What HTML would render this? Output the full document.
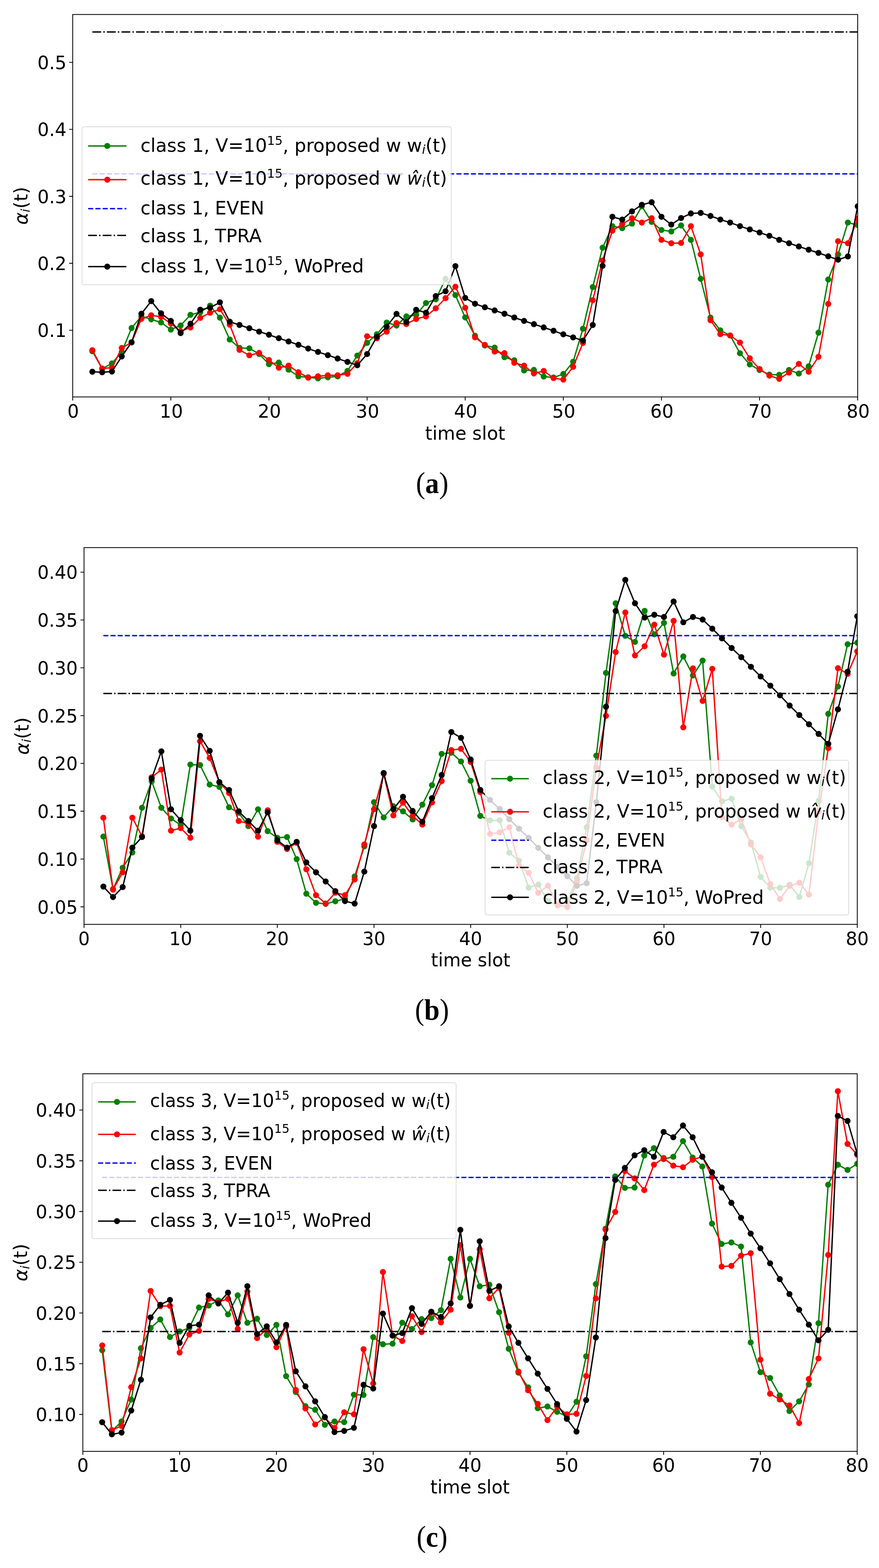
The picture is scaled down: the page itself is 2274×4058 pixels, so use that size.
<!DOCTYPE html><html><head><meta charset="utf-8"><style>html,body{margin:0;padding:0;background:#fff;}svg{display:block;}</style></head><body>
<svg width="2274" height="4058" viewBox="0 0 2274 4058">
<rect x="0" y="0" width="2274" height="4058" fill="#fff"/>
<defs>
<clipPath id="clipa"><rect x="188.1" y="37.5" width="2030.8" height="989.8"/></clipPath>
<clipPath id="clipb"><rect x="217.4" y="1417.2" width="2000.4" height="975.1"/></clipPath>
<clipPath id="clipc"><rect x="214.3" y="2778.9" width="2003.3" height="977.2"/></clipPath>
</defs>
<g clip-path="url(#clipa)">
<polyline points="238.9,908.9 264.3,954.2 289.6,940.5 315.0,910.8 340.4,848.9 365.8,818.7 391.2,826.6 416.6,834.5 442.0,852.9 467.3,842.4 492.7,814.7 518.1,808.2 543.5,791.1 568.9,822.1 594.3,878.7 619.6,900.3 645.0,901.6 670.4,916.1 695.8,942.4 721.2,938.4 746.6,956.8 772.0,973.9 797.3,976.6 822.7,979.2 848.1,976.6 873.5,973.9 898.9,960.0 924.3,920.3 949.7,887.4 975.0,865.0 1000.4,834.7 1025.8,842.6 1051.2,818.9 1076.6,815.0 1102.0,784.2 1127.3,774.7 1152.7,721.6 1178.1,763.7 1203.5,821.6 1228.9,868.9 1254.3,893.9 1279.7,899.5 1305.0,924.5 1330.4,932.4 1355.8,958.7 1381.2,957.4 1406.6,974.5 1432.0,977.1 1457.3,967.9 1482.7,936.3 1508.1,850.8 1533.5,742.9 1558.9,641.1 1584.3,585.3 1609.7,590.5 1635.0,578.7 1660.4,533.9 1685.8,574.2 1711.2,595.3 1736.6,598.9 1762.0,583.4 1787.4,620.8 1812.7,721.6 1838.1,822.1 1863.5,855.0 1888.9,868.2 1914.3,914.2 1939.7,943.2 1965.0,957.6 1990.4,969.5 2015.8,970.0 2041.2,957.6 2066.6,966.8 2092.0,947.9 2117.4,861.1 2142.7,723.4 2168.1,658.4 2193.5,576.1 2218.9,582.6" fill="none" stroke="#008000" stroke-width="3.5" stroke-linejoin="round" stroke-linecap="butt"/>
<g fill="#008000"><circle cx="238.9" cy="908.9" r="7.8"/><circle cx="264.3" cy="954.2" r="7.8"/><circle cx="289.6" cy="940.5" r="7.8"/><circle cx="315.0" cy="910.8" r="7.8"/><circle cx="340.4" cy="848.9" r="7.8"/><circle cx="365.8" cy="818.7" r="7.8"/><circle cx="391.2" cy="826.6" r="7.8"/><circle cx="416.6" cy="834.5" r="7.8"/><circle cx="442.0" cy="852.9" r="7.8"/><circle cx="467.3" cy="842.4" r="7.8"/><circle cx="492.7" cy="814.7" r="7.8"/><circle cx="518.1" cy="808.2" r="7.8"/><circle cx="543.5" cy="791.1" r="7.8"/><circle cx="568.9" cy="822.1" r="7.8"/><circle cx="594.3" cy="878.7" r="7.8"/><circle cx="619.6" cy="900.3" r="7.8"/><circle cx="645.0" cy="901.6" r="7.8"/><circle cx="670.4" cy="916.1" r="7.8"/><circle cx="695.8" cy="942.4" r="7.8"/><circle cx="721.2" cy="938.4" r="7.8"/><circle cx="746.6" cy="956.8" r="7.8"/><circle cx="772.0" cy="973.9" r="7.8"/><circle cx="797.3" cy="976.6" r="7.8"/><circle cx="822.7" cy="979.2" r="7.8"/><circle cx="848.1" cy="976.6" r="7.8"/><circle cx="873.5" cy="973.9" r="7.8"/><circle cx="898.9" cy="960.0" r="7.8"/><circle cx="924.3" cy="920.3" r="7.8"/><circle cx="949.7" cy="887.4" r="7.8"/><circle cx="975.0" cy="865.0" r="7.8"/><circle cx="1000.4" cy="834.7" r="7.8"/><circle cx="1025.8" cy="842.6" r="7.8"/><circle cx="1051.2" cy="818.9" r="7.8"/><circle cx="1076.6" cy="815.0" r="7.8"/><circle cx="1102.0" cy="784.2" r="7.8"/><circle cx="1127.3" cy="774.7" r="7.8"/><circle cx="1152.7" cy="721.6" r="7.8"/><circle cx="1178.1" cy="763.7" r="7.8"/><circle cx="1203.5" cy="821.6" r="7.8"/><circle cx="1228.9" cy="868.9" r="7.8"/><circle cx="1254.3" cy="893.9" r="7.8"/><circle cx="1279.7" cy="899.5" r="7.8"/><circle cx="1305.0" cy="924.5" r="7.8"/><circle cx="1330.4" cy="932.4" r="7.8"/><circle cx="1355.8" cy="958.7" r="7.8"/><circle cx="1381.2" cy="957.4" r="7.8"/><circle cx="1406.6" cy="974.5" r="7.8"/><circle cx="1432.0" cy="977.1" r="7.8"/><circle cx="1457.3" cy="967.9" r="7.8"/><circle cx="1482.7" cy="936.3" r="7.8"/><circle cx="1508.1" cy="850.8" r="7.8"/><circle cx="1533.5" cy="742.9" r="7.8"/><circle cx="1558.9" cy="641.1" r="7.8"/><circle cx="1584.3" cy="585.3" r="7.8"/><circle cx="1609.7" cy="590.5" r="7.8"/><circle cx="1635.0" cy="578.7" r="7.8"/><circle cx="1660.4" cy="533.9" r="7.8"/><circle cx="1685.8" cy="574.2" r="7.8"/><circle cx="1711.2" cy="595.3" r="7.8"/><circle cx="1736.6" cy="598.9" r="7.8"/><circle cx="1762.0" cy="583.4" r="7.8"/><circle cx="1787.4" cy="620.8" r="7.8"/><circle cx="1812.7" cy="721.6" r="7.8"/><circle cx="1838.1" cy="822.1" r="7.8"/><circle cx="1863.5" cy="855.0" r="7.8"/><circle cx="1888.9" cy="868.2" r="7.8"/><circle cx="1914.3" cy="914.2" r="7.8"/><circle cx="1939.7" cy="943.2" r="7.8"/><circle cx="1965.0" cy="957.6" r="7.8"/><circle cx="1990.4" cy="969.5" r="7.8"/><circle cx="2015.8" cy="970.0" r="7.8"/><circle cx="2041.2" cy="957.6" r="7.8"/><circle cx="2066.6" cy="966.8" r="7.8"/><circle cx="2092.0" cy="947.9" r="7.8"/><circle cx="2117.4" cy="861.1" r="7.8"/><circle cx="2142.7" cy="723.4" r="7.8"/><circle cx="2168.1" cy="658.4" r="7.8"/><circle cx="2193.5" cy="576.1" r="7.8"/><circle cx="2218.9" cy="582.6" r="7.8"/></g>
<polyline points="238.9,906.3 264.3,953.7 289.6,951.6 315.0,900.5 340.4,886.3 365.8,825.3 391.2,816.1 416.6,820.0 442.0,837.1 467.3,857.4 492.7,847.6 518.1,822.6 543.5,809.5 568.9,800.3 594.3,840.5 619.6,905.5 645.0,919.5 670.4,913.4 695.8,931.8 721.2,951.6 746.6,946.3 772.0,963.4 797.3,977.4 822.7,973.9 848.1,971.3 873.5,971.3 898.9,967.4 924.3,940.0 949.7,870.3 975.0,875.5 1000.4,858.4 1025.8,836.1 1051.2,838.7 1076.6,825.5 1102.0,818.9 1127.3,797.9 1152.7,771.6 1178.1,742.1 1203.5,796.6 1228.9,872.9 1254.3,892.6 1279.7,910.0 1305.0,913.9 1330.4,938.9 1355.8,946.3 1381.2,966.6 1406.6,960.0 1432.0,978.4 1457.3,982.4 1482.7,949.5 1508.1,887.6 1533.5,777.1 1558.9,674.2 1584.3,597.1 1609.7,580.0 1635.0,564.7 1660.4,576.1 1685.8,564.7 1711.2,620.8 1736.6,629.5 1762.0,628.7 1787.4,585.3 1812.7,658.4 1838.1,828.7 1863.5,864.7 1888.9,868.2 1914.3,886.6 1939.7,927.4 1965.0,955.0 1990.4,972.1 2015.8,980.5 2041.2,964.2 2066.6,941.8 2092.0,962.1 2117.4,923.4 2142.7,786.6 2168.1,624.2 2193.5,629.5 2218.9,566.1" fill="none" stroke="#ff0000" stroke-width="3.5" stroke-linejoin="round" stroke-linecap="butt"/>
<g fill="#ff0000"><circle cx="238.9" cy="906.3" r="7.8"/><circle cx="264.3" cy="953.7" r="7.8"/><circle cx="289.6" cy="951.6" r="7.8"/><circle cx="315.0" cy="900.5" r="7.8"/><circle cx="340.4" cy="886.3" r="7.8"/><circle cx="365.8" cy="825.3" r="7.8"/><circle cx="391.2" cy="816.1" r="7.8"/><circle cx="416.6" cy="820.0" r="7.8"/><circle cx="442.0" cy="837.1" r="7.8"/><circle cx="467.3" cy="857.4" r="7.8"/><circle cx="492.7" cy="847.6" r="7.8"/><circle cx="518.1" cy="822.6" r="7.8"/><circle cx="543.5" cy="809.5" r="7.8"/><circle cx="568.9" cy="800.3" r="7.8"/><circle cx="594.3" cy="840.5" r="7.8"/><circle cx="619.6" cy="905.5" r="7.8"/><circle cx="645.0" cy="919.5" r="7.8"/><circle cx="670.4" cy="913.4" r="7.8"/><circle cx="695.8" cy="931.8" r="7.8"/><circle cx="721.2" cy="951.6" r="7.8"/><circle cx="746.6" cy="946.3" r="7.8"/><circle cx="772.0" cy="963.4" r="7.8"/><circle cx="797.3" cy="977.4" r="7.8"/><circle cx="822.7" cy="973.9" r="7.8"/><circle cx="848.1" cy="971.3" r="7.8"/><circle cx="873.5" cy="971.3" r="7.8"/><circle cx="898.9" cy="967.4" r="7.8"/><circle cx="924.3" cy="940.0" r="7.8"/><circle cx="949.7" cy="870.3" r="7.8"/><circle cx="975.0" cy="875.5" r="7.8"/><circle cx="1000.4" cy="858.4" r="7.8"/><circle cx="1025.8" cy="836.1" r="7.8"/><circle cx="1051.2" cy="838.7" r="7.8"/><circle cx="1076.6" cy="825.5" r="7.8"/><circle cx="1102.0" cy="818.9" r="7.8"/><circle cx="1127.3" cy="797.9" r="7.8"/><circle cx="1152.7" cy="771.6" r="7.8"/><circle cx="1178.1" cy="742.1" r="7.8"/><circle cx="1203.5" cy="796.6" r="7.8"/><circle cx="1228.9" cy="872.9" r="7.8"/><circle cx="1254.3" cy="892.6" r="7.8"/><circle cx="1279.7" cy="910.0" r="7.8"/><circle cx="1305.0" cy="913.9" r="7.8"/><circle cx="1330.4" cy="938.9" r="7.8"/><circle cx="1355.8" cy="946.3" r="7.8"/><circle cx="1381.2" cy="966.6" r="7.8"/><circle cx="1406.6" cy="960.0" r="7.8"/><circle cx="1432.0" cy="978.4" r="7.8"/><circle cx="1457.3" cy="982.4" r="7.8"/><circle cx="1482.7" cy="949.5" r="7.8"/><circle cx="1508.1" cy="887.6" r="7.8"/><circle cx="1533.5" cy="777.1" r="7.8"/><circle cx="1558.9" cy="674.2" r="7.8"/><circle cx="1584.3" cy="597.1" r="7.8"/><circle cx="1609.7" cy="580.0" r="7.8"/><circle cx="1635.0" cy="564.7" r="7.8"/><circle cx="1660.4" cy="576.1" r="7.8"/><circle cx="1685.8" cy="564.7" r="7.8"/><circle cx="1711.2" cy="620.8" r="7.8"/><circle cx="1736.6" cy="629.5" r="7.8"/><circle cx="1762.0" cy="628.7" r="7.8"/><circle cx="1787.4" cy="585.3" r="7.8"/><circle cx="1812.7" cy="658.4" r="7.8"/><circle cx="1838.1" cy="828.7" r="7.8"/><circle cx="1863.5" cy="864.7" r="7.8"/><circle cx="1888.9" cy="868.2" r="7.8"/><circle cx="1914.3" cy="886.6" r="7.8"/><circle cx="1939.7" cy="927.4" r="7.8"/><circle cx="1965.0" cy="955.0" r="7.8"/><circle cx="1990.4" cy="972.1" r="7.8"/><circle cx="2015.8" cy="980.5" r="7.8"/><circle cx="2041.2" cy="964.2" r="7.8"/><circle cx="2066.6" cy="941.8" r="7.8"/><circle cx="2092.0" cy="962.1" r="7.8"/><circle cx="2117.4" cy="923.4" r="7.8"/><circle cx="2142.7" cy="786.6" r="7.8"/><circle cx="2168.1" cy="624.2" r="7.8"/><circle cx="2193.5" cy="629.5" r="7.8"/><circle cx="2218.9" cy="566.1" r="7.8"/></g>
<line x1="238.9" y1="450.0" x2="2218.9" y2="450.0" stroke="#0000ff" stroke-width="3.5" stroke-dasharray="13.148,5.686"/>
<line x1="238.9" y1="82.8" x2="2218.9" y2="82.8" stroke="#000" stroke-width="3.5" stroke-dasharray="22.743,5.686,3.554,5.686"/>
<polyline points="238.9,962.1 264.3,963.4 289.6,961.6 315.0,922.6 340.4,885.8 365.8,812.1 391.2,779.2 416.6,810.8 442.0,830.5 467.3,862.1 492.7,837.9 518.1,801.6 543.5,796.3 568.9,782.6 594.3,832.6 619.6,841.1 645.0,849.5 670.4,858.2 695.8,866.3 721.2,875.3 746.6,883.7 772.0,892.4 797.3,902.1 822.7,910.8 848.1,919.2 873.5,927.9 898.9,936.6 924.3,945.3 949.7,916.3 975.0,871.6 1000.4,845.3 1025.8,812.4 1051.2,833.4 1076.6,801.8 1102.0,809.2 1127.3,766.3 1152.7,753.7 1178.1,688.7 1203.5,771.1 1228.9,786.1 1254.3,795.3 1279.7,803.4 1305.0,812.1 1330.4,821.8 1355.8,830.5 1381.2,838.9 1406.6,847.4 1432.0,856.1 1457.3,865.3 1482.7,873.2 1508.1,881.6 1533.5,841.1 1558.9,687.9 1584.3,561.1 1609.7,568.2 1635.0,547.1 1660.4,530.0 1685.8,523.4 1711.2,561.1 1736.6,581.3 1762.0,564.2 1787.4,552.4 1812.7,551.1 1838.1,558.9 1863.5,568.2 1888.9,576.1 1914.3,585.3 1939.7,593.7 1965.0,601.8 1990.4,610.3 2015.8,620.8 2041.2,629.5 2066.6,637.9 2092.0,646.3 2117.4,654.5 2142.7,663.4 2168.1,672.1 2193.5,663.7 2218.9,533.9" fill="none" stroke="#000" stroke-width="3.5" stroke-linejoin="round"/>
<g fill="#000"><circle cx="238.9" cy="962.1" r="7.8"/><circle cx="264.3" cy="963.4" r="7.8"/><circle cx="289.6" cy="961.6" r="7.8"/><circle cx="315.0" cy="922.6" r="7.8"/><circle cx="340.4" cy="885.8" r="7.8"/><circle cx="365.8" cy="812.1" r="7.8"/><circle cx="391.2" cy="779.2" r="7.8"/><circle cx="416.6" cy="810.8" r="7.8"/><circle cx="442.0" cy="830.5" r="7.8"/><circle cx="467.3" cy="862.1" r="7.8"/><circle cx="492.7" cy="837.9" r="7.8"/><circle cx="518.1" cy="801.6" r="7.8"/><circle cx="543.5" cy="796.3" r="7.8"/><circle cx="568.9" cy="782.6" r="7.8"/><circle cx="594.3" cy="832.6" r="7.8"/><circle cx="619.6" cy="841.1" r="7.8"/><circle cx="645.0" cy="849.5" r="7.8"/><circle cx="670.4" cy="858.2" r="7.8"/><circle cx="695.8" cy="866.3" r="7.8"/><circle cx="721.2" cy="875.3" r="7.8"/><circle cx="746.6" cy="883.7" r="7.8"/><circle cx="772.0" cy="892.4" r="7.8"/><circle cx="797.3" cy="902.1" r="7.8"/><circle cx="822.7" cy="910.8" r="7.8"/><circle cx="848.1" cy="919.2" r="7.8"/><circle cx="873.5" cy="927.9" r="7.8"/><circle cx="898.9" cy="936.6" r="7.8"/><circle cx="924.3" cy="945.3" r="7.8"/><circle cx="949.7" cy="916.3" r="7.8"/><circle cx="975.0" cy="871.6" r="7.8"/><circle cx="1000.4" cy="845.3" r="7.8"/><circle cx="1025.8" cy="812.4" r="7.8"/><circle cx="1051.2" cy="833.4" r="7.8"/><circle cx="1076.6" cy="801.8" r="7.8"/><circle cx="1102.0" cy="809.2" r="7.8"/><circle cx="1127.3" cy="766.3" r="7.8"/><circle cx="1152.7" cy="753.7" r="7.8"/><circle cx="1178.1" cy="688.7" r="7.8"/><circle cx="1203.5" cy="771.1" r="7.8"/><circle cx="1228.9" cy="786.1" r="7.8"/><circle cx="1254.3" cy="795.3" r="7.8"/><circle cx="1279.7" cy="803.4" r="7.8"/><circle cx="1305.0" cy="812.1" r="7.8"/><circle cx="1330.4" cy="821.8" r="7.8"/><circle cx="1355.8" cy="830.5" r="7.8"/><circle cx="1381.2" cy="838.9" r="7.8"/><circle cx="1406.6" cy="847.4" r="7.8"/><circle cx="1432.0" cy="856.1" r="7.8"/><circle cx="1457.3" cy="865.3" r="7.8"/><circle cx="1482.7" cy="873.2" r="7.8"/><circle cx="1508.1" cy="881.6" r="7.8"/><circle cx="1533.5" cy="841.1" r="7.8"/><circle cx="1558.9" cy="687.9" r="7.8"/><circle cx="1584.3" cy="561.1" r="7.8"/><circle cx="1609.7" cy="568.2" r="7.8"/><circle cx="1635.0" cy="547.1" r="7.8"/><circle cx="1660.4" cy="530.0" r="7.8"/><circle cx="1685.8" cy="523.4" r="7.8"/><circle cx="1711.2" cy="561.1" r="7.8"/><circle cx="1736.6" cy="581.3" r="7.8"/><circle cx="1762.0" cy="564.2" r="7.8"/><circle cx="1787.4" cy="552.4" r="7.8"/><circle cx="1812.7" cy="551.1" r="7.8"/><circle cx="1838.1" cy="558.9" r="7.8"/><circle cx="1863.5" cy="568.2" r="7.8"/><circle cx="1888.9" cy="576.1" r="7.8"/><circle cx="1914.3" cy="585.3" r="7.8"/><circle cx="1939.7" cy="593.7" r="7.8"/><circle cx="1965.0" cy="601.8" r="7.8"/><circle cx="1990.4" cy="610.3" r="7.8"/><circle cx="2015.8" cy="620.8" r="7.8"/><circle cx="2041.2" cy="629.5" r="7.8"/><circle cx="2066.6" cy="637.9" r="7.8"/><circle cx="2092.0" cy="646.3" r="7.8"/><circle cx="2117.4" cy="654.5" r="7.8"/><circle cx="2142.7" cy="663.4" r="7.8"/><circle cx="2168.1" cy="672.1" r="7.8"/><circle cx="2193.5" cy="663.7" r="7.8"/><circle cx="2218.9" cy="533.9" r="7.8"/></g>
</g>
<rect x="188.1" y="37.5" width="2030.8" height="989.8" fill="none" stroke="#000" stroke-width="2.1" stroke-linejoin="miter"/>
<path d="M188.1 1027.3v9.2M442.0 1027.3v9.2M695.8 1027.3v9.2M949.7 1027.3v9.2M1203.5 1027.3v9.2M1457.3 1027.3v9.2M1711.2 1027.3v9.2M1965.0 1027.3v9.2M2218.9 1027.3v9.2M188.1 854.7h-9.2M188.1 681.4h-9.2M188.1 508.1h-9.2M188.1 334.8h-9.2M188.1 161.5h-9.2" stroke="#000" stroke-width="2.1" fill="none"/>
<g font-family="'DejaVu Sans', sans-serif" font-size="48.8" fill="#000">
<text transform="translate(189.3,1080.6) scale(0.97,1)" text-anchor="middle">0</text>
<text transform="translate(443.2,1080.6) scale(0.97,1)" text-anchor="middle">10</text>
<text transform="translate(697.0,1080.6) scale(0.97,1)" text-anchor="middle">20</text>
<text transform="translate(950.9,1080.6) scale(0.97,1)" text-anchor="middle">30</text>
<text transform="translate(1204.7,1080.6) scale(0.97,1)" text-anchor="middle">40</text>
<text transform="translate(1458.5,1080.6) scale(0.97,1)" text-anchor="middle">50</text>
<text transform="translate(1712.4,1080.6) scale(0.97,1)" text-anchor="middle">60</text>
<text transform="translate(1966.2,1080.6) scale(0.97,1)" text-anchor="middle">70</text>
<text transform="translate(2220.1,1080.6) scale(0.97,1)" text-anchor="middle">80</text>
<text transform="translate(172.1,872.3) scale(0.97,1)" text-anchor="end">0.1</text>
<text transform="translate(172.1,699.0) scale(0.97,1)" text-anchor="end">0.2</text>
<text transform="translate(172.1,525.7) scale(0.97,1)" text-anchor="end">0.3</text>
<text transform="translate(172.1,352.4) scale(0.97,1)" text-anchor="end">0.4</text>
<text transform="translate(172.1,179.1) scale(0.97,1)" text-anchor="end">0.5</text>
<text transform="translate(1203.5,1137.6) scale(0.97,1)" text-anchor="middle">time slot</text>
<text transform="translate(70.6,532.4) rotate(-90)" text-anchor="middle"><tspan font-style="italic">α</tspan><tspan dy="6.05" font-size="32.70" font-style="italic">i</tspan><tspan dy="-6.05">(t)</tspan></text>
</g>
<rect x="1043" y="445" width="121" height="10" fill="#fff"/>
<rect x="212.2" y="328.2" width="955.2" height="408.7" rx="5" ry="5" fill="#fff" fill-opacity="0.8" stroke="#cccccc" stroke-opacity="0.8" stroke-width="1.7"/>
<line x1="228.0" y1="377.8" x2="327.0" y2="377.8" stroke="#008000" stroke-width="3.5"/><circle cx="277.5" cy="377.8" r="7.8" fill="#008000"/>
<line x1="228.0" y1="465.1" x2="327.0" y2="465.1" stroke="#ff0000" stroke-width="3.5"/><circle cx="277.5" cy="465.1" r="7.8" fill="#ff0000"/>
<line x1="228.0" y1="540.0" x2="327.0" y2="540.0" stroke="#0000ff" stroke-width="3.5" stroke-dasharray="13.148,5.686"/>
<line x1="228.0" y1="609.3" x2="327.0" y2="609.3" stroke="#000" stroke-width="3.5" stroke-dasharray="22.743,5.686,3.554,5.686"/>
<line x1="228.0" y1="690.1" x2="327.0" y2="690.1" stroke="#000000" stroke-width="3.5"/><circle cx="277.5" cy="690.1" r="7.8" fill="#000000"/>
<g font-family="'DejaVu Sans', sans-serif" font-size="48.8" fill="#000">
<text transform="translate(363.4,393.2) scale(0.977,1)">class 1, V=10<tspan dy="-18.59" font-size="32.70">15</tspan><tspan dy="18.59">, proposed w w</tspan><tspan dy="5.03" font-size="32.70" font-style="italic">i</tspan><tspan dy="-5.03">(t)</tspan></text>
<text transform="translate(363.4,478.2) scale(0.977,1)">class 1, V=10<tspan dy="-18.59" font-size="32.70">15</tspan><tspan dy="18.59">, proposed w </tspan><tspan font-style="italic">ŵ</tspan><tspan dy="5.03" font-size="32.70" font-style="italic">i</tspan><tspan dy="-5.03">(t)</tspan></text>
<text transform="translate(363.4,555.0) scale(0.97,1)">class 1, EVEN</text>
<text transform="translate(363.4,627.4) scale(0.97,1)">class 1, TPRA</text>
<text transform="translate(363.4,705.0) scale(0.977,1)">class 1, V=10<tspan dy="-18.59" font-size="32.70">15</tspan><tspan dy="18.59">, WoPred</tspan></text>
</g>
<text transform="translate(1118,1276) scale(0.93,1)" text-anchor="middle" font-family="'Liberation Serif', serif" font-size="78">(<tspan font-weight="bold" font-size="77">a</tspan>)</text>
<g clip-path="url(#clipb)">
<polyline points="267.4,2165.0 292.4,2301.1 317.4,2245.8 342.4,2206.3 367.4,2090.5 392.4,2022.1 417.4,2090.5 442.4,2118.2 467.5,2135.3 492.5,1978.7 517.5,1980.0 542.5,2030.5 567.5,2036.6 592.5,2089.2 617.5,2103.7 642.5,2137.9 667.5,2094.5 692.5,2151.1 717.5,2168.2 742.5,2166.3 767.5,2223.4 792.5,2312.9 817.5,2336.6 842.5,2339.2 867.5,2332.6 892.5,2326.1 917.5,2268.2 942.5,2190.5 967.6,2076.1 992.6,2115.5 1017.6,2086.6 1042.6,2099.7 1067.6,2120.8 1092.6,2082.6 1117.6,2032.1 1142.6,1951.1 1167.6,1947.9 1192.6,1970.8 1217.6,2020.8 1242.6,2111.6 1267.6,2123.3 1292.6,2123.0 1317.6,2207.0 1342.6,2227.5 1367.6,2297.3 1392.6,2289.3 1417.6,2332.0 1442.6,2343.3 1467.7,2333.0 1492.7,2272.5 1517.7,2141.0 1542.7,1955.6 1567.7,1741.6 1592.7,1561.3 1617.7,1645.5 1642.7,1661.3 1667.7,1581.1 1692.7,1641.6 1717.7,1612.1 1742.7,1742.9 1767.7,1698.9 1792.7,1748.2 1817.7,1709.5 1842.7,2035.5 1867.7,2073.7 1892.7,2067.1 1917.7,2138.2 1942.7,2180.3 1967.8,2269.5 1992.8,2297.2 2017.8,2297.8 2042.8,2289.7 2067.8,2321.5 2092.8,2233.9 2117.8,2073.0 2142.8,1847.4 2167.8,1776.7 2192.8,1667.2 2217.8,1663.3" fill="none" stroke="#008000" stroke-width="3.5" stroke-linejoin="round" stroke-linecap="butt"/>
<g fill="#008000"><circle cx="267.4" cy="2165.0" r="7.8"/><circle cx="292.4" cy="2301.1" r="7.8"/><circle cx="317.4" cy="2245.8" r="7.8"/><circle cx="342.4" cy="2206.3" r="7.8"/><circle cx="367.4" cy="2090.5" r="7.8"/><circle cx="392.4" cy="2022.1" r="7.8"/><circle cx="417.4" cy="2090.5" r="7.8"/><circle cx="442.4" cy="2118.2" r="7.8"/><circle cx="467.5" cy="2135.3" r="7.8"/><circle cx="492.5" cy="1978.7" r="7.8"/><circle cx="517.5" cy="1980.0" r="7.8"/><circle cx="542.5" cy="2030.5" r="7.8"/><circle cx="567.5" cy="2036.6" r="7.8"/><circle cx="592.5" cy="2089.2" r="7.8"/><circle cx="617.5" cy="2103.7" r="7.8"/><circle cx="642.5" cy="2137.9" r="7.8"/><circle cx="667.5" cy="2094.5" r="7.8"/><circle cx="692.5" cy="2151.1" r="7.8"/><circle cx="717.5" cy="2168.2" r="7.8"/><circle cx="742.5" cy="2166.3" r="7.8"/><circle cx="767.5" cy="2223.4" r="7.8"/><circle cx="792.5" cy="2312.9" r="7.8"/><circle cx="817.5" cy="2336.6" r="7.8"/><circle cx="842.5" cy="2339.2" r="7.8"/><circle cx="867.5" cy="2332.6" r="7.8"/><circle cx="892.5" cy="2326.1" r="7.8"/><circle cx="917.5" cy="2268.2" r="7.8"/><circle cx="942.5" cy="2190.5" r="7.8"/><circle cx="967.6" cy="2076.1" r="7.8"/><circle cx="992.6" cy="2115.5" r="7.8"/><circle cx="1017.6" cy="2086.6" r="7.8"/><circle cx="1042.6" cy="2099.7" r="7.8"/><circle cx="1067.6" cy="2120.8" r="7.8"/><circle cx="1092.6" cy="2082.6" r="7.8"/><circle cx="1117.6" cy="2032.1" r="7.8"/><circle cx="1142.6" cy="1951.1" r="7.8"/><circle cx="1167.6" cy="1947.9" r="7.8"/><circle cx="1192.6" cy="1970.8" r="7.8"/><circle cx="1217.6" cy="2020.8" r="7.8"/><circle cx="1242.6" cy="2111.6" r="7.8"/><circle cx="1267.6" cy="2123.3" r="7.8"/><circle cx="1292.6" cy="2123.0" r="7.8"/><circle cx="1317.6" cy="2207.0" r="7.8"/><circle cx="1342.6" cy="2227.5" r="7.8"/><circle cx="1367.6" cy="2297.3" r="7.8"/><circle cx="1392.6" cy="2289.3" r="7.8"/><circle cx="1417.6" cy="2332.0" r="7.8"/><circle cx="1442.6" cy="2343.3" r="7.8"/><circle cx="1467.7" cy="2333.0" r="7.8"/><circle cx="1492.7" cy="2272.5" r="7.8"/><circle cx="1517.7" cy="2141.0" r="7.8"/><circle cx="1542.7" cy="1955.6" r="7.8"/><circle cx="1567.7" cy="1741.6" r="7.8"/><circle cx="1592.7" cy="1561.3" r="7.8"/><circle cx="1617.7" cy="1645.5" r="7.8"/><circle cx="1642.7" cy="1661.3" r="7.8"/><circle cx="1667.7" cy="1581.1" r="7.8"/><circle cx="1692.7" cy="1641.6" r="7.8"/><circle cx="1717.7" cy="1612.1" r="7.8"/><circle cx="1742.7" cy="1742.9" r="7.8"/><circle cx="1767.7" cy="1698.9" r="7.8"/><circle cx="1792.7" cy="1748.2" r="7.8"/><circle cx="1817.7" cy="1709.5" r="7.8"/><circle cx="1842.7" cy="2035.5" r="7.8"/><circle cx="1867.7" cy="2073.7" r="7.8"/><circle cx="1892.7" cy="2067.1" r="7.8"/><circle cx="1917.7" cy="2138.2" r="7.8"/><circle cx="1942.7" cy="2180.3" r="7.8"/><circle cx="1967.8" cy="2269.5" r="7.8"/><circle cx="1992.8" cy="2297.2" r="7.8"/><circle cx="2017.8" cy="2297.8" r="7.8"/><circle cx="2042.8" cy="2289.7" r="7.8"/><circle cx="2067.8" cy="2321.5" r="7.8"/><circle cx="2092.8" cy="2233.9" r="7.8"/><circle cx="2117.8" cy="2073.0" r="7.8"/><circle cx="2142.8" cy="1847.4" r="7.8"/><circle cx="2167.8" cy="1776.7" r="7.8"/><circle cx="2192.8" cy="1667.2" r="7.8"/><circle cx="2217.8" cy="1663.3" r="7.8"/></g>
<polyline points="267.4,2116.3 292.4,2302.4 317.4,2257.6 342.4,2116.3 367.4,2164.2 392.4,2011.6 417.4,1991.8 442.4,2149.7 467.5,2143.2 492.5,2168.2 517.5,1918.2 542.5,1961.6 567.5,2024.2 592.5,2052.4 617.5,2124.7 642.5,2131.3 667.5,2165.5 692.5,2097.1 717.5,2178.7 742.5,2197.1 767.5,2181.3 792.5,2249.7 817.5,2316.8 842.5,2338.4 867.5,2310.3 892.5,2316.8 917.5,2276.1 942.5,2185.3 967.6,2094.5 992.6,2002.4 1017.6,2110.3 1042.6,2077.4 1067.6,2111.6 1092.6,2133.9 1117.6,2076.8 1142.6,2021.6 1167.6,1941.3 1192.6,1937.9 1217.6,1972.1 1242.6,2049.7 1267.6,2158.3 1292.6,2154.3 1317.6,2141.0 1342.6,2240.0 1367.6,2259.0 1392.6,2310.6 1417.6,2292.5 1442.6,2342.2 1467.7,2347.5 1492.7,2280.7 1517.7,2174.3 1542.7,1986.8 1567.7,1852.6 1592.7,1687.6 1617.7,1585.0 1642.7,1696.3 1667.7,1672.6 1692.7,1616.6 1717.7,1694.2 1742.7,1606.8 1767.7,1882.4 1792.7,1729.7 1817.7,1813.9 1842.7,1731.1 1867.7,2114.5 1892.7,2134.2 1917.7,2119.7 1942.7,2185.5 1967.8,2218.9 1992.8,2287.8 2017.8,2326.5 2042.8,2292.8 2067.8,2284.5 2092.8,2315.3 2117.8,2100.0 2142.8,1935.9 2167.8,1729.3 2192.8,1744.0 2217.8,1685.8" fill="none" stroke="#ff0000" stroke-width="3.5" stroke-linejoin="round" stroke-linecap="butt"/>
<g fill="#ff0000"><circle cx="267.4" cy="2116.3" r="7.8"/><circle cx="292.4" cy="2302.4" r="7.8"/><circle cx="317.4" cy="2257.6" r="7.8"/><circle cx="342.4" cy="2116.3" r="7.8"/><circle cx="367.4" cy="2164.2" r="7.8"/><circle cx="392.4" cy="2011.6" r="7.8"/><circle cx="417.4" cy="1991.8" r="7.8"/><circle cx="442.4" cy="2149.7" r="7.8"/><circle cx="467.5" cy="2143.2" r="7.8"/><circle cx="492.5" cy="2168.2" r="7.8"/><circle cx="517.5" cy="1918.2" r="7.8"/><circle cx="542.5" cy="1961.6" r="7.8"/><circle cx="567.5" cy="2024.2" r="7.8"/><circle cx="592.5" cy="2052.4" r="7.8"/><circle cx="617.5" cy="2124.7" r="7.8"/><circle cx="642.5" cy="2131.3" r="7.8"/><circle cx="667.5" cy="2165.5" r="7.8"/><circle cx="692.5" cy="2097.1" r="7.8"/><circle cx="717.5" cy="2178.7" r="7.8"/><circle cx="742.5" cy="2197.1" r="7.8"/><circle cx="767.5" cy="2181.3" r="7.8"/><circle cx="792.5" cy="2249.7" r="7.8"/><circle cx="817.5" cy="2316.8" r="7.8"/><circle cx="842.5" cy="2338.4" r="7.8"/><circle cx="867.5" cy="2310.3" r="7.8"/><circle cx="892.5" cy="2316.8" r="7.8"/><circle cx="917.5" cy="2276.1" r="7.8"/><circle cx="942.5" cy="2185.3" r="7.8"/><circle cx="967.6" cy="2094.5" r="7.8"/><circle cx="992.6" cy="2002.4" r="7.8"/><circle cx="1017.6" cy="2110.3" r="7.8"/><circle cx="1042.6" cy="2077.4" r="7.8"/><circle cx="1067.6" cy="2111.6" r="7.8"/><circle cx="1092.6" cy="2133.9" r="7.8"/><circle cx="1117.6" cy="2076.8" r="7.8"/><circle cx="1142.6" cy="2021.6" r="7.8"/><circle cx="1167.6" cy="1941.3" r="7.8"/><circle cx="1192.6" cy="1937.9" r="7.8"/><circle cx="1217.6" cy="1972.1" r="7.8"/><circle cx="1242.6" cy="2049.7" r="7.8"/><circle cx="1267.6" cy="2158.3" r="7.8"/><circle cx="1292.6" cy="2154.3" r="7.8"/><circle cx="1317.6" cy="2141.0" r="7.8"/><circle cx="1342.6" cy="2240.0" r="7.8"/><circle cx="1367.6" cy="2259.0" r="7.8"/><circle cx="1392.6" cy="2310.6" r="7.8"/><circle cx="1417.6" cy="2292.5" r="7.8"/><circle cx="1442.6" cy="2342.2" r="7.8"/><circle cx="1467.7" cy="2347.5" r="7.8"/><circle cx="1492.7" cy="2280.7" r="7.8"/><circle cx="1517.7" cy="2174.3" r="7.8"/><circle cx="1542.7" cy="1986.8" r="7.8"/><circle cx="1567.7" cy="1852.6" r="7.8"/><circle cx="1592.7" cy="1687.6" r="7.8"/><circle cx="1617.7" cy="1585.0" r="7.8"/><circle cx="1642.7" cy="1696.3" r="7.8"/><circle cx="1667.7" cy="1672.6" r="7.8"/><circle cx="1692.7" cy="1616.6" r="7.8"/><circle cx="1717.7" cy="1694.2" r="7.8"/><circle cx="1742.7" cy="1606.8" r="7.8"/><circle cx="1767.7" cy="1882.4" r="7.8"/><circle cx="1792.7" cy="1729.7" r="7.8"/><circle cx="1817.7" cy="1813.9" r="7.8"/><circle cx="1842.7" cy="1731.1" r="7.8"/><circle cx="1867.7" cy="2114.5" r="7.8"/><circle cx="1892.7" cy="2134.2" r="7.8"/><circle cx="1917.7" cy="2119.7" r="7.8"/><circle cx="1942.7" cy="2185.5" r="7.8"/><circle cx="1967.8" cy="2218.9" r="7.8"/><circle cx="1992.8" cy="2287.8" r="7.8"/><circle cx="2017.8" cy="2326.5" r="7.8"/><circle cx="2042.8" cy="2292.8" r="7.8"/><circle cx="2067.8" cy="2284.5" r="7.8"/><circle cx="2092.8" cy="2315.3" r="7.8"/><circle cx="2117.8" cy="2100.0" r="7.8"/><circle cx="2142.8" cy="1935.9" r="7.8"/><circle cx="2167.8" cy="1729.3" r="7.8"/><circle cx="2192.8" cy="1744.0" r="7.8"/><circle cx="2217.8" cy="1685.8" r="7.8"/></g>
<line x1="267.4" y1="1645.1" x2="2217.8" y2="1645.1" stroke="#0000ff" stroke-width="3.5" stroke-dasharray="12.952,5.601"/>
<line x1="267.4" y1="1794.7" x2="2217.8" y2="1794.7" stroke="#000" stroke-width="3.5" stroke-dasharray="22.404,5.601,3.501,5.601"/>
<polyline points="267.4,2294.5 292.4,2321.6 317.4,2295.8 342.4,2193.7 367.4,2166.3 392.4,2014.7 417.4,1944.5 442.4,2094.5 467.5,2122.6 492.5,2149.7 517.5,1904.2 542.5,1943.2 567.5,2024.2 592.5,2044.5 617.5,2099.7 642.5,2124.7 667.5,2149.7 692.5,2102.4 717.5,2174.7 742.5,2193.7 767.5,2178.7 792.5,2232.1 817.5,2257.6 842.5,2281.3 867.5,2306.3 892.5,2332.1 917.5,2338.4 942.5,2255.8 967.6,2137.9 992.6,2000.5 1017.6,2094.5 1042.6,2062.1 1067.6,2098.9 1092.6,2126.8 1117.6,2065.5 1142.6,2005.8 1167.6,1894.5 1192.6,1909.5 1217.6,1965.5 1242.6,2044.5 1267.6,2070.3 1292.6,2093.8 1317.6,2120.0 1342.6,2144.8 1367.6,2168.4 1392.6,2194.2 1417.6,2218.9 1442.6,2243.6 1467.7,2267.8 1492.7,2292.5 1517.7,2285.8 1542.7,2076.2 1567.7,1828.9 1592.7,1581.6 1617.7,1500.8 1642.7,1561.3 1667.7,1598.2 1692.7,1591.1 1717.7,1596.8 1742.7,1556.8 1767.7,1610.5 1792.7,1596.8 1817.7,1603.4 1842.7,1627.1 1867.7,1652.1 1892.7,1677.1 1917.7,1700.8 1942.7,1725.8 1967.8,1750.8 1992.8,1774.5 2017.8,1799.5 2042.8,1826.1 2067.8,1850.5 2092.8,1874.5 2117.8,1899.4 2142.8,1925.0 2167.8,1835.7 2192.8,1738.6 2217.8,1595.0" fill="none" stroke="#000" stroke-width="3.5" stroke-linejoin="round"/>
<g fill="#000"><circle cx="267.4" cy="2294.5" r="7.8"/><circle cx="292.4" cy="2321.6" r="7.8"/><circle cx="317.4" cy="2295.8" r="7.8"/><circle cx="342.4" cy="2193.7" r="7.8"/><circle cx="367.4" cy="2166.3" r="7.8"/><circle cx="392.4" cy="2014.7" r="7.8"/><circle cx="417.4" cy="1944.5" r="7.8"/><circle cx="442.4" cy="2094.5" r="7.8"/><circle cx="467.5" cy="2122.6" r="7.8"/><circle cx="492.5" cy="2149.7" r="7.8"/><circle cx="517.5" cy="1904.2" r="7.8"/><circle cx="542.5" cy="1943.2" r="7.8"/><circle cx="567.5" cy="2024.2" r="7.8"/><circle cx="592.5" cy="2044.5" r="7.8"/><circle cx="617.5" cy="2099.7" r="7.8"/><circle cx="642.5" cy="2124.7" r="7.8"/><circle cx="667.5" cy="2149.7" r="7.8"/><circle cx="692.5" cy="2102.4" r="7.8"/><circle cx="717.5" cy="2174.7" r="7.8"/><circle cx="742.5" cy="2193.7" r="7.8"/><circle cx="767.5" cy="2178.7" r="7.8"/><circle cx="792.5" cy="2232.1" r="7.8"/><circle cx="817.5" cy="2257.6" r="7.8"/><circle cx="842.5" cy="2281.3" r="7.8"/><circle cx="867.5" cy="2306.3" r="7.8"/><circle cx="892.5" cy="2332.1" r="7.8"/><circle cx="917.5" cy="2338.4" r="7.8"/><circle cx="942.5" cy="2255.8" r="7.8"/><circle cx="967.6" cy="2137.9" r="7.8"/><circle cx="992.6" cy="2000.5" r="7.8"/><circle cx="1017.6" cy="2094.5" r="7.8"/><circle cx="1042.6" cy="2062.1" r="7.8"/><circle cx="1067.6" cy="2098.9" r="7.8"/><circle cx="1092.6" cy="2126.8" r="7.8"/><circle cx="1117.6" cy="2065.5" r="7.8"/><circle cx="1142.6" cy="2005.8" r="7.8"/><circle cx="1167.6" cy="1894.5" r="7.8"/><circle cx="1192.6" cy="1909.5" r="7.8"/><circle cx="1217.6" cy="1965.5" r="7.8"/><circle cx="1242.6" cy="2044.5" r="7.8"/><circle cx="1267.6" cy="2070.3" r="7.8"/><circle cx="1292.6" cy="2093.8" r="7.8"/><circle cx="1317.6" cy="2120.0" r="7.8"/><circle cx="1342.6" cy="2144.8" r="7.8"/><circle cx="1367.6" cy="2168.4" r="7.8"/><circle cx="1392.6" cy="2194.2" r="7.8"/><circle cx="1417.6" cy="2218.9" r="7.8"/><circle cx="1442.6" cy="2243.6" r="7.8"/><circle cx="1467.7" cy="2267.8" r="7.8"/><circle cx="1492.7" cy="2292.5" r="7.8"/><circle cx="1517.7" cy="2285.8" r="7.8"/><circle cx="1542.7" cy="2076.2" r="7.8"/><circle cx="1567.7" cy="1828.9" r="7.8"/><circle cx="1592.7" cy="1581.6" r="7.8"/><circle cx="1617.7" cy="1500.8" r="7.8"/><circle cx="1642.7" cy="1561.3" r="7.8"/><circle cx="1667.7" cy="1598.2" r="7.8"/><circle cx="1692.7" cy="1591.1" r="7.8"/><circle cx="1717.7" cy="1596.8" r="7.8"/><circle cx="1742.7" cy="1556.8" r="7.8"/><circle cx="1767.7" cy="1610.5" r="7.8"/><circle cx="1792.7" cy="1596.8" r="7.8"/><circle cx="1817.7" cy="1603.4" r="7.8"/><circle cx="1842.7" cy="1627.1" r="7.8"/><circle cx="1867.7" cy="1652.1" r="7.8"/><circle cx="1892.7" cy="1677.1" r="7.8"/><circle cx="1917.7" cy="1700.8" r="7.8"/><circle cx="1942.7" cy="1725.8" r="7.8"/><circle cx="1967.8" cy="1750.8" r="7.8"/><circle cx="1992.8" cy="1774.5" r="7.8"/><circle cx="2017.8" cy="1799.5" r="7.8"/><circle cx="2042.8" cy="1826.1" r="7.8"/><circle cx="2067.8" cy="1850.5" r="7.8"/><circle cx="2092.8" cy="1874.5" r="7.8"/><circle cx="2117.8" cy="1899.4" r="7.8"/><circle cx="2142.8" cy="1925.0" r="7.8"/><circle cx="2167.8" cy="1835.7" r="7.8"/><circle cx="2192.8" cy="1738.6" r="7.8"/><circle cx="2217.8" cy="1595.0" r="7.8"/></g>
</g>
<rect x="217.4" y="1417.2" width="2000.4" height="975.1" fill="none" stroke="#000" stroke-width="2.1" stroke-linejoin="miter"/>
<path d="M217.4 2392.3v9.2M467.5 2392.3v9.2M717.5 2392.3v9.2M967.6 2392.3v9.2M1217.6 2392.3v9.2M1467.7 2392.3v9.2M1717.7 2392.3v9.2M1967.8 2392.3v9.2M2217.8 2392.3v9.2M217.4 2346.9h-9.2M217.4 2223.2h-9.2M217.4 2099.4h-9.2M217.4 1975.7h-9.2M217.4 1852.0h-9.2M217.4 1728.3h-9.2M217.4 1604.5h-9.2M217.4 1480.8h-9.2" stroke="#000" stroke-width="2.1" fill="none"/>
<g font-family="'DejaVu Sans', sans-serif" font-size="48.3" fill="#000">
<text transform="translate(217.4,2445.6) scale(0.97,1)" text-anchor="middle">0</text>
<text transform="translate(467.5,2445.6) scale(0.97,1)" text-anchor="middle">10</text>
<text transform="translate(717.5,2445.6) scale(0.97,1)" text-anchor="middle">20</text>
<text transform="translate(967.6,2445.6) scale(0.97,1)" text-anchor="middle">30</text>
<text transform="translate(1217.6,2445.6) scale(0.97,1)" text-anchor="middle">40</text>
<text transform="translate(1467.7,2445.6) scale(0.97,1)" text-anchor="middle">50</text>
<text transform="translate(1717.7,2445.6) scale(0.97,1)" text-anchor="middle">60</text>
<text transform="translate(1967.8,2445.6) scale(0.97,1)" text-anchor="middle">70</text>
<text transform="translate(2217.8,2445.6) scale(0.97,1)" text-anchor="middle">80</text>
<text transform="translate(201.0,2364.5) scale(0.97,1)" text-anchor="end">0.05</text>
<text transform="translate(201.0,2240.8) scale(0.97,1)" text-anchor="end">0.10</text>
<text transform="translate(201.0,2117.0) scale(0.97,1)" text-anchor="end">0.15</text>
<text transform="translate(201.0,1993.3) scale(0.97,1)" text-anchor="end">0.20</text>
<text transform="translate(201.0,1869.6) scale(0.97,1)" text-anchor="end">0.25</text>
<text transform="translate(201.0,1745.9) scale(0.97,1)" text-anchor="end">0.30</text>
<text transform="translate(201.0,1622.1) scale(0.97,1)" text-anchor="end">0.35</text>
<text transform="translate(201.0,1498.4) scale(0.97,1)" text-anchor="end">0.40</text>
<text transform="translate(1217.6,2501.1) scale(0.97,1)" text-anchor="middle">time slot</text>
<text transform="translate(73.6,1904.8) rotate(-90)" text-anchor="middle"><tspan font-style="italic">α</tspan><tspan dy="5.99" font-size="32.36" font-style="italic">i</tspan><tspan dy="-5.99">(t)</tspan></text>
</g>
<rect x="1254.9" y="1967.6" width="940.4" height="400.2" rx="5" ry="5" fill="#fff" fill-opacity="0.8" stroke="#cccccc" stroke-opacity="0.8" stroke-width="1.7"/>
<line x1="1271.0" y1="2015.3" x2="1368.0" y2="2015.3" stroke="#008000" stroke-width="3.5"/><circle cx="1319.5" cy="2015.3" r="7.8" fill="#008000"/>
<line x1="1271.0" y1="2100.9" x2="1368.0" y2="2100.9" stroke="#ff0000" stroke-width="3.5"/><circle cx="1319.5" cy="2100.9" r="7.8" fill="#ff0000"/>
<line x1="1271.0" y1="2174.6" x2="1368.0" y2="2174.6" stroke="#0000ff" stroke-width="3.5" stroke-dasharray="12.952,5.601"/>
<line x1="1271.0" y1="2245.0" x2="1368.0" y2="2245.0" stroke="#000" stroke-width="3.5" stroke-dasharray="22.404,5.601,3.501,5.601"/>
<line x1="1271.0" y1="2322.3" x2="1368.0" y2="2322.3" stroke="#000000" stroke-width="3.5"/><circle cx="1319.5" cy="2322.3" r="7.8" fill="#000000"/>
<g font-family="'DejaVu Sans', sans-serif" font-size="48.3" fill="#000">
<text transform="translate(1404.0,2028.8) scale(0.977,1)">class 2, V=10<tspan dy="-18.40" font-size="32.36">15</tspan><tspan dy="18.40">, proposed w w</tspan><tspan dy="4.97" font-size="32.36" font-style="italic">i</tspan><tspan dy="-4.97">(t)</tspan></text>
<text transform="translate(1404.0,2115.9) scale(0.977,1)">class 2, V=10<tspan dy="-18.40" font-size="32.36">15</tspan><tspan dy="18.40">, proposed w </tspan><tspan font-style="italic">ŵ</tspan><tspan dy="4.97" font-size="32.36" font-style="italic">i</tspan><tspan dy="-4.97">(t)</tspan></text>
<text transform="translate(1404.0,2190.6) scale(0.97,1)">class 2, EVEN</text>
<text transform="translate(1404.0,2260.3) scale(0.97,1)">class 2, TPRA</text>
<text transform="translate(1404.0,2338.5) scale(0.977,1)">class 2, V=10<tspan dy="-18.40" font-size="32.36">15</tspan><tspan dy="18.40">, WoPred</tspan></text>
</g>
<text transform="translate(1117.5,2638.8) scale(0.93,1)" text-anchor="middle" font-family="'Liberation Serif', serif" font-size="78">(<tspan font-weight="bold" font-size="77">b</tspan>)</text>
<g clip-path="url(#clipc)">
<polyline points="264.4,3494.5 289.4,3703.7 314.5,3678.7 339.5,3622.1 364.5,3489.2 389.6,3436.6 414.6,3414.7 439.7,3460.3 464.7,3445.8 489.8,3436.6 514.8,3383.9 539.8,3378.7 564.9,3365.5 589.9,3401.6 615.0,3352.4 640.0,3423.4 665.0,3412.9 690.1,3455.0 715.1,3428.7 740.2,3561.6 765.2,3602.4 790.2,3639.2 815.3,3648.4 840.3,3687.4 865.4,3678.7 890.4,3680.5 915.5,3609.5 940.5,3610.3 965.5,3460.5 990.6,3478.9 1015.6,3477.6 1040.7,3423.2 1065.7,3439.5 1090.7,3413.9 1115.8,3411.3 1140.8,3390.8 1165.9,3257.9 1190.9,3357.9 1215.9,3257.9 1241.0,3328.9 1266.0,3325.0 1291.1,3396.1 1316.1,3490.8 1341.2,3552.4 1366.2,3590.5 1391.2,3644.5 1416.3,3640.0 1441.3,3653.7 1466.4,3666.3 1491.4,3627.9 1516.4,3510.3 1541.5,3323.4 1566.5,3180.0 1591.6,3044.5 1616.6,3074.2 1641.7,3073.4 1666.7,2990.5 1691.7,2971.6 1716.8,2999.7 1741.8,2993.7 1766.9,2953.2 1791.9,2995.8 1816.9,3018.9 1842.0,3166.8 1867.0,3219.5 1892.1,3215.5 1917.1,3226.1 1942.1,3474.2 1967.2,3551.2 1992.2,3566.2 2017.3,3611.5 2042.3,3651.8 2067.4,3626.8 2092.4,3582.9 2117.4,3424.5 2142.5,3065.9 2167.5,3014.4 2192.6,3027.7 2217.6,3011.9" fill="none" stroke="#008000" stroke-width="3.5" stroke-linejoin="round" stroke-linecap="butt"/>
<g fill="#008000"><circle cx="264.4" cy="3494.5" r="7.8"/><circle cx="289.4" cy="3703.7" r="7.8"/><circle cx="314.5" cy="3678.7" r="7.8"/><circle cx="339.5" cy="3622.1" r="7.8"/><circle cx="364.5" cy="3489.2" r="7.8"/><circle cx="389.6" cy="3436.6" r="7.8"/><circle cx="414.6" cy="3414.7" r="7.8"/><circle cx="439.7" cy="3460.3" r="7.8"/><circle cx="464.7" cy="3445.8" r="7.8"/><circle cx="489.8" cy="3436.6" r="7.8"/><circle cx="514.8" cy="3383.9" r="7.8"/><circle cx="539.8" cy="3378.7" r="7.8"/><circle cx="564.9" cy="3365.5" r="7.8"/><circle cx="589.9" cy="3401.6" r="7.8"/><circle cx="615.0" cy="3352.4" r="7.8"/><circle cx="640.0" cy="3423.4" r="7.8"/><circle cx="665.0" cy="3412.9" r="7.8"/><circle cx="690.1" cy="3455.0" r="7.8"/><circle cx="715.1" cy="3428.7" r="7.8"/><circle cx="740.2" cy="3561.6" r="7.8"/><circle cx="765.2" cy="3602.4" r="7.8"/><circle cx="790.2" cy="3639.2" r="7.8"/><circle cx="815.3" cy="3648.4" r="7.8"/><circle cx="840.3" cy="3687.4" r="7.8"/><circle cx="865.4" cy="3678.7" r="7.8"/><circle cx="890.4" cy="3680.5" r="7.8"/><circle cx="915.5" cy="3609.5" r="7.8"/><circle cx="940.5" cy="3610.3" r="7.8"/><circle cx="965.5" cy="3460.5" r="7.8"/><circle cx="990.6" cy="3478.9" r="7.8"/><circle cx="1015.6" cy="3477.6" r="7.8"/><circle cx="1040.7" cy="3423.2" r="7.8"/><circle cx="1065.7" cy="3439.5" r="7.8"/><circle cx="1090.7" cy="3413.9" r="7.8"/><circle cx="1115.8" cy="3411.3" r="7.8"/><circle cx="1140.8" cy="3390.8" r="7.8"/><circle cx="1165.9" cy="3257.9" r="7.8"/><circle cx="1190.9" cy="3357.9" r="7.8"/><circle cx="1215.9" cy="3257.9" r="7.8"/><circle cx="1241.0" cy="3328.9" r="7.8"/><circle cx="1266.0" cy="3325.0" r="7.8"/><circle cx="1291.1" cy="3396.1" r="7.8"/><circle cx="1316.1" cy="3490.8" r="7.8"/><circle cx="1341.2" cy="3552.4" r="7.8"/><circle cx="1366.2" cy="3590.5" r="7.8"/><circle cx="1391.2" cy="3644.5" r="7.8"/><circle cx="1416.3" cy="3640.0" r="7.8"/><circle cx="1441.3" cy="3653.7" r="7.8"/><circle cx="1466.4" cy="3666.3" r="7.8"/><circle cx="1491.4" cy="3627.9" r="7.8"/><circle cx="1516.4" cy="3510.3" r="7.8"/><circle cx="1541.5" cy="3323.4" r="7.8"/><circle cx="1566.5" cy="3180.0" r="7.8"/><circle cx="1591.6" cy="3044.5" r="7.8"/><circle cx="1616.6" cy="3074.2" r="7.8"/><circle cx="1641.7" cy="3073.4" r="7.8"/><circle cx="1666.7" cy="2990.5" r="7.8"/><circle cx="1691.7" cy="2971.6" r="7.8"/><circle cx="1716.8" cy="2999.7" r="7.8"/><circle cx="1741.8" cy="2993.7" r="7.8"/><circle cx="1766.9" cy="2953.2" r="7.8"/><circle cx="1791.9" cy="2995.8" r="7.8"/><circle cx="1816.9" cy="3018.9" r="7.8"/><circle cx="1842.0" cy="3166.8" r="7.8"/><circle cx="1867.0" cy="3219.5" r="7.8"/><circle cx="1892.1" cy="3215.5" r="7.8"/><circle cx="1917.1" cy="3226.1" r="7.8"/><circle cx="1942.1" cy="3474.2" r="7.8"/><circle cx="1967.2" cy="3551.2" r="7.8"/><circle cx="1992.2" cy="3566.2" r="7.8"/><circle cx="2017.3" cy="3611.5" r="7.8"/><circle cx="2042.3" cy="3651.8" r="7.8"/><circle cx="2067.4" cy="3626.8" r="7.8"/><circle cx="2092.4" cy="3582.9" r="7.8"/><circle cx="2117.4" cy="3424.5" r="7.8"/><circle cx="2142.5" cy="3065.9" r="7.8"/><circle cx="2167.5" cy="3014.4" r="7.8"/><circle cx="2192.6" cy="3027.7" r="7.8"/><circle cx="2217.6" cy="3011.9" r="7.8"/></g>
<polyline points="264.4,3482.1 289.4,3701.1 314.5,3690.5 339.5,3590.0 364.5,3515.5 389.6,3341.1 414.6,3380.5 439.7,3379.5 464.7,3500.5 489.8,3453.7 514.8,3444.5 539.8,3361.6 564.9,3369.5 589.9,3361.6 615.0,3439.2 640.0,3342.6 665.0,3462.9 690.1,3439.2 715.1,3486.6 740.2,3432.6 765.2,3597.1 790.2,3645.3 815.3,3686.6 840.3,3668.2 865.4,3695.8 890.4,3655.0 915.5,3660.3 940.5,3491.8 965.5,3580.3 990.6,3292.1 1015.6,3456.6 1040.7,3470.5 1065.7,3406.6 1090.7,3447.4 1115.8,3396.1 1140.8,3422.4 1165.9,3389.5 1190.9,3222.4 1215.9,3378.9 1241.0,3232.9 1266.0,3360.0 1291.1,3332.9 1316.1,3449.5 1341.2,3549.7 1366.2,3597.9 1391.2,3633.2 1416.3,3675.3 1441.3,3640.5 1466.4,3660.3 1491.4,3658.9 1516.4,3561.1 1541.5,3360.3 1566.5,3182.1 1591.6,3136.6 1616.6,3030.5 1641.7,3049.7 1666.7,3080.0 1691.7,3014.2 1716.8,2997.1 1741.8,3016.8 1766.9,3020.8 1791.9,3001.6 1816.9,2993.2 1842.0,3046.3 1867.0,3277.9 1892.1,3276.1 1917.1,3249.7 1942.1,3243.2 1967.2,3518.9 1992.2,3606.9 2017.3,3621.9 2042.3,3637.2 2067.4,3682.9 2092.4,3568.9 2117.4,3515.8 2142.5,3247.8 2167.5,2824.1 2192.6,2960.4 2217.6,2988.6" fill="none" stroke="#ff0000" stroke-width="3.5" stroke-linejoin="round" stroke-linecap="butt"/>
<g fill="#ff0000"><circle cx="264.4" cy="3482.1" r="7.8"/><circle cx="289.4" cy="3701.1" r="7.8"/><circle cx="314.5" cy="3690.5" r="7.8"/><circle cx="339.5" cy="3590.0" r="7.8"/><circle cx="364.5" cy="3515.5" r="7.8"/><circle cx="389.6" cy="3341.1" r="7.8"/><circle cx="414.6" cy="3380.5" r="7.8"/><circle cx="439.7" cy="3379.5" r="7.8"/><circle cx="464.7" cy="3500.5" r="7.8"/><circle cx="489.8" cy="3453.7" r="7.8"/><circle cx="514.8" cy="3444.5" r="7.8"/><circle cx="539.8" cy="3361.6" r="7.8"/><circle cx="564.9" cy="3369.5" r="7.8"/><circle cx="589.9" cy="3361.6" r="7.8"/><circle cx="615.0" cy="3439.2" r="7.8"/><circle cx="640.0" cy="3342.6" r="7.8"/><circle cx="665.0" cy="3462.9" r="7.8"/><circle cx="690.1" cy="3439.2" r="7.8"/><circle cx="715.1" cy="3486.6" r="7.8"/><circle cx="740.2" cy="3432.6" r="7.8"/><circle cx="765.2" cy="3597.1" r="7.8"/><circle cx="790.2" cy="3645.3" r="7.8"/><circle cx="815.3" cy="3686.6" r="7.8"/><circle cx="840.3" cy="3668.2" r="7.8"/><circle cx="865.4" cy="3695.8" r="7.8"/><circle cx="890.4" cy="3655.0" r="7.8"/><circle cx="915.5" cy="3660.3" r="7.8"/><circle cx="940.5" cy="3491.8" r="7.8"/><circle cx="965.5" cy="3580.3" r="7.8"/><circle cx="990.6" cy="3292.1" r="7.8"/><circle cx="1015.6" cy="3456.6" r="7.8"/><circle cx="1040.7" cy="3470.5" r="7.8"/><circle cx="1065.7" cy="3406.6" r="7.8"/><circle cx="1090.7" cy="3447.4" r="7.8"/><circle cx="1115.8" cy="3396.1" r="7.8"/><circle cx="1140.8" cy="3422.4" r="7.8"/><circle cx="1165.9" cy="3389.5" r="7.8"/><circle cx="1190.9" cy="3222.4" r="7.8"/><circle cx="1215.9" cy="3378.9" r="7.8"/><circle cx="1241.0" cy="3232.9" r="7.8"/><circle cx="1266.0" cy="3360.0" r="7.8"/><circle cx="1291.1" cy="3332.9" r="7.8"/><circle cx="1316.1" cy="3449.5" r="7.8"/><circle cx="1341.2" cy="3549.7" r="7.8"/><circle cx="1366.2" cy="3597.9" r="7.8"/><circle cx="1391.2" cy="3633.2" r="7.8"/><circle cx="1416.3" cy="3675.3" r="7.8"/><circle cx="1441.3" cy="3640.5" r="7.8"/><circle cx="1466.4" cy="3660.3" r="7.8"/><circle cx="1491.4" cy="3658.9" r="7.8"/><circle cx="1516.4" cy="3561.1" r="7.8"/><circle cx="1541.5" cy="3360.3" r="7.8"/><circle cx="1566.5" cy="3182.1" r="7.8"/><circle cx="1591.6" cy="3136.6" r="7.8"/><circle cx="1616.6" cy="3030.5" r="7.8"/><circle cx="1641.7" cy="3049.7" r="7.8"/><circle cx="1666.7" cy="3080.0" r="7.8"/><circle cx="1691.7" cy="3014.2" r="7.8"/><circle cx="1716.8" cy="2997.1" r="7.8"/><circle cx="1741.8" cy="3016.8" r="7.8"/><circle cx="1766.9" cy="3020.8" r="7.8"/><circle cx="1791.9" cy="3001.6" r="7.8"/><circle cx="1816.9" cy="2993.2" r="7.8"/><circle cx="1842.0" cy="3046.3" r="7.8"/><circle cx="1867.0" cy="3277.9" r="7.8"/><circle cx="1892.1" cy="3276.1" r="7.8"/><circle cx="1917.1" cy="3249.7" r="7.8"/><circle cx="1942.1" cy="3243.2" r="7.8"/><circle cx="1967.2" cy="3518.9" r="7.8"/><circle cx="1992.2" cy="3606.9" r="7.8"/><circle cx="2017.3" cy="3621.9" r="7.8"/><circle cx="2042.3" cy="3637.2" r="7.8"/><circle cx="2067.4" cy="3682.9" r="7.8"/><circle cx="2092.4" cy="3568.9" r="7.8"/><circle cx="2117.4" cy="3515.8" r="7.8"/><circle cx="2142.5" cy="3247.8" r="7.8"/><circle cx="2167.5" cy="2824.1" r="7.8"/><circle cx="2192.6" cy="2960.4" r="7.8"/><circle cx="2217.6" cy="2988.6" r="7.8"/></g>
<line x1="264.4" y1="3047.3" x2="2217.6" y2="3047.3" stroke="#0000ff" stroke-width="3.5" stroke-dasharray="12.974,5.610"/>
<line x1="264.4" y1="3445.9" x2="2217.6" y2="3445.9" stroke="#000" stroke-width="3.5" stroke-dasharray="22.441,5.610,3.506,5.610"/>
<polyline points="264.4,3680.8 289.4,3712.1 314.5,3707.6 339.5,3650.5 364.5,3570.8 389.6,3409.5 414.6,3376.8 439.7,3364.2 464.7,3475.3 489.8,3431.3 514.8,3428.2 539.8,3352.4 564.9,3373.4 589.9,3345.3 615.0,3423.4 640.0,3328.7 665.0,3452.4 690.1,3432.6 715.1,3474.2 740.2,3428.7 765.2,3548.9 790.2,3587.9 815.3,3626.8 840.3,3667.4 865.4,3706.3 890.4,3703.2 915.5,3695.3 940.5,3583.9 965.5,3593.4 990.6,3399.5 1015.6,3456.6 1040.7,3450.0 1065.7,3385.5 1090.7,3426.3 1115.8,3394.7 1140.8,3408.4 1165.9,3373.2 1190.9,3182.9 1215.9,3379.7 1241.0,3212.6 1266.0,3340.8 1291.1,3328.9 1316.1,3432.9 1341.2,3475.3 1366.2,3515.5 1391.2,3555.0 1416.3,3594.5 1441.3,3633.9 1466.4,3672.1 1491.4,3705.0 1516.4,3623.4 1541.5,3461.6 1566.5,3204.2 1591.6,3053.7 1616.6,3022.6 1641.7,2990.0 1666.7,2976.8 1691.7,2993.7 1716.8,2929.5 1741.8,2943.2 1766.9,2912.9 1791.9,2943.2 1816.9,2993.7 1842.0,3033.9 1867.0,3073.4 1892.1,3112.9 1917.1,3151.6 1942.1,3192.6 1967.2,3230.5 1992.2,3269.5 2017.3,3310.4 2042.3,3349.0 2067.4,3389.6 2092.4,3428.2 2117.4,3468.8 2142.5,3441.6 2167.5,2888.1 2192.6,2901.0 2217.6,2986.1" fill="none" stroke="#000" stroke-width="3.5" stroke-linejoin="round"/>
<g fill="#000"><circle cx="264.4" cy="3680.8" r="7.8"/><circle cx="289.4" cy="3712.1" r="7.8"/><circle cx="314.5" cy="3707.6" r="7.8"/><circle cx="339.5" cy="3650.5" r="7.8"/><circle cx="364.5" cy="3570.8" r="7.8"/><circle cx="389.6" cy="3409.5" r="7.8"/><circle cx="414.6" cy="3376.8" r="7.8"/><circle cx="439.7" cy="3364.2" r="7.8"/><circle cx="464.7" cy="3475.3" r="7.8"/><circle cx="489.8" cy="3431.3" r="7.8"/><circle cx="514.8" cy="3428.2" r="7.8"/><circle cx="539.8" cy="3352.4" r="7.8"/><circle cx="564.9" cy="3373.4" r="7.8"/><circle cx="589.9" cy="3345.3" r="7.8"/><circle cx="615.0" cy="3423.4" r="7.8"/><circle cx="640.0" cy="3328.7" r="7.8"/><circle cx="665.0" cy="3452.4" r="7.8"/><circle cx="690.1" cy="3432.6" r="7.8"/><circle cx="715.1" cy="3474.2" r="7.8"/><circle cx="740.2" cy="3428.7" r="7.8"/><circle cx="765.2" cy="3548.9" r="7.8"/><circle cx="790.2" cy="3587.9" r="7.8"/><circle cx="815.3" cy="3626.8" r="7.8"/><circle cx="840.3" cy="3667.4" r="7.8"/><circle cx="865.4" cy="3706.3" r="7.8"/><circle cx="890.4" cy="3703.2" r="7.8"/><circle cx="915.5" cy="3695.3" r="7.8"/><circle cx="940.5" cy="3583.9" r="7.8"/><circle cx="965.5" cy="3593.4" r="7.8"/><circle cx="990.6" cy="3399.5" r="7.8"/><circle cx="1015.6" cy="3456.6" r="7.8"/><circle cx="1040.7" cy="3450.0" r="7.8"/><circle cx="1065.7" cy="3385.5" r="7.8"/><circle cx="1090.7" cy="3426.3" r="7.8"/><circle cx="1115.8" cy="3394.7" r="7.8"/><circle cx="1140.8" cy="3408.4" r="7.8"/><circle cx="1165.9" cy="3373.2" r="7.8"/><circle cx="1190.9" cy="3182.9" r="7.8"/><circle cx="1215.9" cy="3379.7" r="7.8"/><circle cx="1241.0" cy="3212.6" r="7.8"/><circle cx="1266.0" cy="3340.8" r="7.8"/><circle cx="1291.1" cy="3328.9" r="7.8"/><circle cx="1316.1" cy="3432.9" r="7.8"/><circle cx="1341.2" cy="3475.3" r="7.8"/><circle cx="1366.2" cy="3515.5" r="7.8"/><circle cx="1391.2" cy="3555.0" r="7.8"/><circle cx="1416.3" cy="3594.5" r="7.8"/><circle cx="1441.3" cy="3633.9" r="7.8"/><circle cx="1466.4" cy="3672.1" r="7.8"/><circle cx="1491.4" cy="3705.0" r="7.8"/><circle cx="1516.4" cy="3623.4" r="7.8"/><circle cx="1541.5" cy="3461.6" r="7.8"/><circle cx="1566.5" cy="3204.2" r="7.8"/><circle cx="1591.6" cy="3053.7" r="7.8"/><circle cx="1616.6" cy="3022.6" r="7.8"/><circle cx="1641.7" cy="2990.0" r="7.8"/><circle cx="1666.7" cy="2976.8" r="7.8"/><circle cx="1691.7" cy="2993.7" r="7.8"/><circle cx="1716.8" cy="2929.5" r="7.8"/><circle cx="1741.8" cy="2943.2" r="7.8"/><circle cx="1766.9" cy="2912.9" r="7.8"/><circle cx="1791.9" cy="2943.2" r="7.8"/><circle cx="1816.9" cy="2993.7" r="7.8"/><circle cx="1842.0" cy="3033.9" r="7.8"/><circle cx="1867.0" cy="3073.4" r="7.8"/><circle cx="1892.1" cy="3112.9" r="7.8"/><circle cx="1917.1" cy="3151.6" r="7.8"/><circle cx="1942.1" cy="3192.6" r="7.8"/><circle cx="1967.2" cy="3230.5" r="7.8"/><circle cx="1992.2" cy="3269.5" r="7.8"/><circle cx="2017.3" cy="3310.4" r="7.8"/><circle cx="2042.3" cy="3349.0" r="7.8"/><circle cx="2067.4" cy="3389.6" r="7.8"/><circle cx="2092.4" cy="3428.2" r="7.8"/><circle cx="2117.4" cy="3468.8" r="7.8"/><circle cx="2142.5" cy="3441.6" r="7.8"/><circle cx="2167.5" cy="2888.1" r="7.8"/><circle cx="2192.6" cy="2901.0" r="7.8"/><circle cx="2217.6" cy="2986.1" r="7.8"/></g>
</g>
<rect x="214.3" y="2778.9" width="2003.3" height="977.2" fill="none" stroke="#000" stroke-width="2.1" stroke-linejoin="miter"/>
<path d="M214.3 3756.1v9.2M464.7 3756.1v9.2M715.1 3756.1v9.2M965.5 3756.1v9.2M1215.9 3756.1v9.2M1466.4 3756.1v9.2M1716.8 3756.1v9.2M1967.2 3756.1v9.2M2217.6 3756.1v9.2M214.3 3660.6h-9.2M214.3 3529.3h-9.2M214.3 3398.0h-9.2M214.3 3266.7h-9.2M214.3 3135.4h-9.2M214.3 3004.1h-9.2M214.3 2872.8h-9.2" stroke="#000" stroke-width="2.1" fill="none"/>
<g font-family="'DejaVu Sans', sans-serif" font-size="48.4" fill="#000">
<text transform="translate(214.3,3809.4) scale(0.97,1)" text-anchor="middle">0</text>
<text transform="translate(464.7,3809.4) scale(0.97,1)" text-anchor="middle">10</text>
<text transform="translate(715.1,3809.4) scale(0.97,1)" text-anchor="middle">20</text>
<text transform="translate(965.5,3809.4) scale(0.97,1)" text-anchor="middle">30</text>
<text transform="translate(1215.9,3809.4) scale(0.97,1)" text-anchor="middle">40</text>
<text transform="translate(1466.4,3809.4) scale(0.97,1)" text-anchor="middle">50</text>
<text transform="translate(1716.8,3809.4) scale(0.97,1)" text-anchor="middle">60</text>
<text transform="translate(1967.2,3809.4) scale(0.97,1)" text-anchor="middle">70</text>
<text transform="translate(2217.6,3809.4) scale(0.97,1)" text-anchor="middle">80</text>
<text transform="translate(197.1,3678.2) scale(0.97,1)" text-anchor="end">0.10</text>
<text transform="translate(197.1,3546.9) scale(0.97,1)" text-anchor="end">0.15</text>
<text transform="translate(197.1,3415.6) scale(0.97,1)" text-anchor="end">0.20</text>
<text transform="translate(197.1,3284.3) scale(0.97,1)" text-anchor="end">0.25</text>
<text transform="translate(197.1,3153.0) scale(0.97,1)" text-anchor="end">0.30</text>
<text transform="translate(197.1,3021.7) scale(0.97,1)" text-anchor="end">0.35</text>
<text transform="translate(197.1,2890.4) scale(0.97,1)" text-anchor="end">0.40</text>
<text transform="translate(1216.0,3864.7) scale(0.97,1)" text-anchor="middle">time slot</text>
<text transform="translate(70.3,3267.5) rotate(-90)" text-anchor="middle"><tspan font-style="italic">α</tspan><tspan dy="6.00" font-size="32.43" font-style="italic">i</tspan><tspan dy="-6.00">(t)</tspan></text>
</g>
<rect x="238.1" y="2802.2" width="941.9" height="403.4" rx="5" ry="5" fill="#fff" fill-opacity="0.8" stroke="#cccccc" stroke-opacity="0.8" stroke-width="1.7"/>
<line x1="253.8" y1="2851.8" x2="351.4" y2="2851.8" stroke="#008000" stroke-width="3.5"/><circle cx="302.6" cy="2851.8" r="7.8" fill="#008000"/>
<line x1="253.8" y1="2935.8" x2="351.4" y2="2935.8" stroke="#ff0000" stroke-width="3.5"/><circle cx="302.6" cy="2935.8" r="7.8" fill="#ff0000"/>
<line x1="253.8" y1="3009.9" x2="351.4" y2="3009.9" stroke="#0000ff" stroke-width="3.5" stroke-dasharray="12.974,5.610"/>
<line x1="253.8" y1="3080.4" x2="351.4" y2="3080.4" stroke="#000" stroke-width="3.5" stroke-dasharray="22.441,5.610,3.506,5.610"/>
<line x1="253.8" y1="3160.2" x2="351.4" y2="3160.2" stroke="#000000" stroke-width="3.5"/><circle cx="302.6" cy="3160.2" r="7.8" fill="#000000"/>
<g font-family="'DejaVu Sans', sans-serif" font-size="48.4" fill="#000">
<text transform="translate(388.2,2864.8) scale(0.9662529999999999,1)">class 3, V=10<tspan dy="-18.44" font-size="32.43">15</tspan><tspan dy="18.44">, proposed w w</tspan><tspan dy="4.99" font-size="32.43" font-style="italic">i</tspan><tspan dy="-4.99">(t)</tspan></text>
<text transform="translate(388.2,2950.8) scale(0.9662529999999999,1)">class 3, V=10<tspan dy="-18.44" font-size="32.43">15</tspan><tspan dy="18.44">, proposed w </tspan><tspan font-style="italic">ŵ</tspan><tspan dy="4.99" font-size="32.43" font-style="italic">i</tspan><tspan dy="-4.99">(t)</tspan></text>
<text transform="translate(388.2,3026.9) scale(0.97,1)">class 3, EVEN</text>
<text transform="translate(388.2,3097.9) scale(0.97,1)">class 3, TPRA</text>
<text transform="translate(388.2,3175.2) scale(0.977,1)">class 3, V=10<tspan dy="-18.44" font-size="32.43">15</tspan><tspan dy="18.44">, WoPred</tspan></text>
</g>
<text transform="translate(1117.7,4003.0) scale(0.93,1)" text-anchor="middle" font-family="'Liberation Serif', serif" font-size="78">(<tspan font-weight="bold" font-size="77">c</tspan>)</text>
</svg></body></html>
